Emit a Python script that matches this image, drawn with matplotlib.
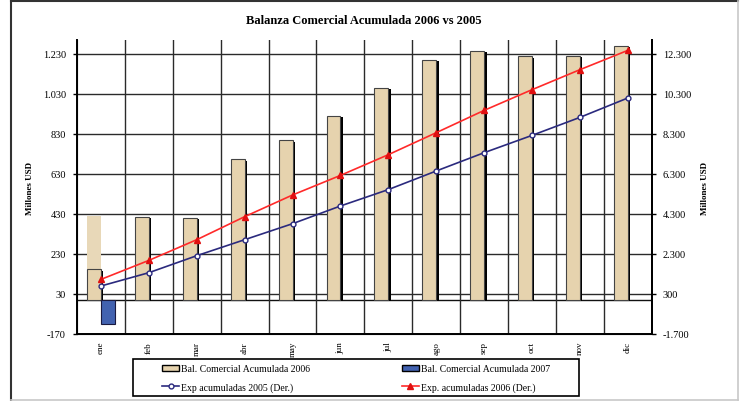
import matplotlib
matplotlib.use("Agg")
import matplotlib.pyplot as plt
import matplotlib.patheffects as pe
from matplotlib.lines import Line2D
from matplotlib.patches import Rectangle, Patch
import numpy as np

months = ["ene", "feb", "mar", "abr", "may", "jun", "jul", "ago", "sep", "oct", "nov", "dic"]
bal_2006 = [153, 415, 410, 703, 798, 920, 1060, 1201, 1245, 1218, 1220, 1271]
bal_2007 = [-122]
exp_2005 = [700, 1365, 2215, 3015, 3815, 4700, 5520, 6450, 7365, 8230, 9130, 10100]
exp_2006 = [1030, 1980, 3015, 4165, 5250, 6230, 7265, 8365, 9480, 10515, 11515, 12480]
left_ticks = [-170, 30, 230, 430, 630, 830, 1030, 1230]
left_labels = ["-170", "30", "230", "430", "630", "830", "1.030", "1.230"]
right_ticks = [-1700, 300, 2300, 4300, 6300, 8300, 10300, 12300]
right_labels = ["-1.700", "300", "2.300", "4.300", "6.300", "8.300", "10.300", "12.300"]
# stray texture fragment drawn above the "ene" bar in the original
ghost_top = 418

serif = ["Liberation Serif", "DejaVu Serif"]
plt.rcParams["font.family"] = serif

W, H = 744, 402
fig = plt.figure(figsize=(W / 100, H / 100), dpi=100)
ax = fig.add_axes([77 / W, 1 - 335 / H, (651.7 - 77) / W, (335 - 41) / H])
ax2 = ax.twinx()

x = np.arange(len(months))
bw = 0.29
beige = "#E6D3AE"
shadow = [pe.SimplePatchShadow(offset=(1.8, -1.0), shadow_rgbFace="black", alpha=1.0), pe.Normal()]

# ghost fragment
ax.bar(x[0] - bw / 2, ghost_top - bal_2006[0], width=bw, bottom=bal_2006[0],
       color="#E8D8B8", edgecolor="none", zorder=2)
bars06 = ax.bar(x - bw / 2, bal_2006, width=bw, color=beige, edgecolor="#444444",
                linewidth=0.8, zorder=3)
for b in bars06:
    b.set_path_effects(shadow)
bars07 = ax.bar(x[:len(bal_2007)] + bw / 2, bal_2007, width=bw, color="#4262B0",
                edgecolor="#1A1A40", linewidth=0.8, zorder=3)

ax.set_xlim(-0.5, len(months) - 0.5)
ax.set_ylim(-170, 1300)
ax.set_yticks(left_ticks)
ax.set_yticklabels(left_labels)
ax.set_xticks(x)
ax.set_xticklabels(months, rotation=90)
ax.tick_params(axis="x", length=0, pad=5, labelsize=6.5)
ax.tick_params(axis="y", length=3, width=1, pad=5, labelsize=7.5, direction="out")

for v in left_ticks:
    ax.axhline(v, color="#2A2A2A", linewidth=1.0, zorder=1)
ax.axhline(0, color="#111111", linewidth=1.0, zorder=1)
for b in np.arange(0.5, len(months) - 0.5, 1):
    ax.axvline(b, color="#2A2A2A", linewidth=1.0, zorder=1)

for s in ["left", "bottom", "right"]:
    ax.spines[s].set_linewidth(1.4)
ax.spines["top"].set_visible(False)
ax2.spines["top"].set_visible(False)
ax2.spines["right"].set_linewidth(1.4)

ax2.set_ylim(-1700, 13000)
ax2.set_yticks(right_ticks)
ax2.set_yticklabels(right_labels)
ax2.tick_params(axis="y", length=3, width=1, pad=5, labelsize=7.5, direction="out")

l05, = ax2.plot(x, exp_2005, color="#2B2A7E", linewidth=1.2, marker="o", markersize=3.5,
                markerfacecolor="white", markeredgecolor="#2B2A7E", markeredgewidth=1.0, zorder=5)
l06, = ax2.plot(x, exp_2006, color="#FF2A2A", linewidth=1.2, marker="^", markersize=4,
                markerfacecolor="#E01010", markeredgecolor="#E01010", zorder=5)

ax.set_ylabel("Millones USD", fontsize=6.5, fontweight="bold", labelpad=0)
ax.yaxis.set_label_coords((34 - 77) / (651.7 - 77), 0.5)
ax2.set_ylabel("Millones USD", fontsize=6.5, fontweight="bold", rotation=90)
ax2.yaxis.set_label_coords((701 - 77) / (651.7 - 77), 0.5)

fig.text(364 / W, 1 - 20.5 / H, "Balanza Comercial Acumulada 2006 vs 2005",
         ha="center", va="center", fontsize=9, fontweight="bold")

# legend frame
fig.patches.append(Rectangle((133 / W, 1 - 397 / H), (579 - 133) / W, (397 - 360) / H,
                             transform=fig.transFigure, facecolor="white",
                             edgecolor="black", linewidth=1.2, zorder=0))
h1 = Patch(facecolor=beige, edgecolor="black", linewidth=1.0)
h2 = Patch(facecolor="#4262B0", edgecolor="black", linewidth=1.0)
leg = fig.legend([h1, l05, h2, l06],
                 ["Bal. Comercial Acumulada 2006", "Exp acumuladas 2005 (Der.)",
                  "Bal. Comercial Acumulada 2007", "Exp. acumuladas 2006 (Der.)"],
                 ncol=2, loc="center", bbox_to_anchor=(356 / W, 1 - 379 / H),
                 frameon=False, fontsize=7, handlelength=1.75, handletextpad=0.2,
                 columnspacing=9.4, labelspacing=0.95, handleheight=0.6)

# outer frame
fig.add_artist(Line2D([11 / W, 11 / W], [1 - 400.5 / H, 1 - 1.5 / H], transform=fig.transFigure,
                      color="#333333", linewidth=1.5))
fig.add_artist(Line2D([11 / W, 737.5 / W], [1 - 1.5 / H, 1 - 1.5 / H], transform=fig.transFigure,
                      color="#333333", linewidth=1.5))
fig.add_artist(Line2D([737.5 / W, 737.5 / W], [1 - 400.5 / H, 1 - 1.5 / H], transform=fig.transFigure,
                      color="#C8C8C8", linewidth=1.2))
fig.add_artist(Line2D([11 / W, 737.5 / W], [1 - 400.5 / H, 1 - 400.5 / H], transform=fig.transFigure,
                      color="#C8C8C8", linewidth=1.2))

fig.savefig("out.png", dpi=100)
